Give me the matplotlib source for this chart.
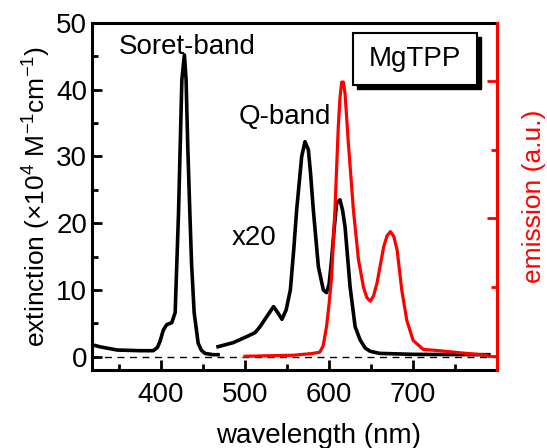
import matplotlib
matplotlib.use('Agg')
import matplotlib.pyplot as plt
import matplotlib.patches as mpatches
from matplotlib.ticker import MultipleLocator, FixedLocator

plt.rcParams['font.family'] = ['Liberation Sans', 'DejaVu Sans']
plt.rcParams['mathtext.fontset'] = 'custom'
plt.rcParams['mathtext.rm'] = 'Liberation Sans'
plt.rcParams['mathtext.it'] = 'Liberation Sans'

# Soret band (absorption, as measured)
soret_nm = [318, 327, 348, 375, 391, 396, 399, 403, 407, 413, 417, 419, 421,
            423, 425, 428, 430, 432, 434.5, 436.5, 439.6, 444.4, 448, 452.4,
            462, 468]
soret_ext = [1.8, 1.5, 1.0, 0.9, 0.9, 1.4, 2.3, 4.0, 4.8, 5.1, 6.6, 14, 21.5,
             31.5, 41.5, 45.2, 41.5, 31.5, 21.5, 14, 6.6, 2.0, 1.0, 0.5,
             0.3, 0.3]

# Q band (absorption, x20)
q_nm = [468, 486, 502, 512, 518, 527, 534, 539, 544, 549, 554, 558, 561.5,
        567.5, 571.4, 575.4, 578, 581.3, 587.3, 593.2, 597, 600, 603, 606,
        609, 613, 616, 619, 625, 631, 637, 643, 649, 660, 700, 790]
q_ext = [1.5, 2.1, 3.0, 3.6, 4.5, 6.2, 7.5, 6.6, 5.6, 7.0, 10.0, 16.0, 22.0,
         30.0, 32.2, 31.0, 27.5, 22.0, 13.5, 10.0, 9.6, 10.8, 14.5, 19.0,
         23.0, 23.5, 22.0, 19.5, 10.5, 4.5, 2.5, 1.3, 0.8, 0.5, 0.35, 0.3]

# emission (a.u.)
em_nm = [500, 557.5, 580, 589, 593, 597, 600, 603, 607, 611, 613, 615, 617,
         619, 623, 629, 635, 641, 645, 649, 653, 657, 665, 669, 673, 677,
         681, 686.5, 692.5, 700, 712, 732, 756, 788]
em_int = [0, 0.015, 0.04, 0.06, 0.15, 0.43, 0.75, 1.15, 2.12, 3.33, 3.75,
          3.98, 3.98, 3.82, 3.09, 2.12, 1.40, 1.0, 0.85, 0.80, 0.88, 1.06,
          1.59, 1.75, 1.81, 1.74, 1.54, 0.96, 0.52, 0.23, 0.10, 0.08, 0.05,
          0.015]

fig = plt.figure(figsize=(5.47, 4.48), dpi=100, facecolor='w')
ax = fig.add_axes([0.168, 0.174, 0.741, 0.775])

ax.axhline(0, color='k', lw=1.0, ls=(0, (5, 4)), zorder=1)
ax.plot(soret_nm, soret_ext, color='k', lw=2.6, zorder=3, solid_joinstyle='round')
ax.plot(q_nm, q_ext, color='k', lw=2.6, zorder=3, solid_joinstyle='round')

ax.set_xlim(318, 800)
ax.set_ylim(-2, 50)
ax.xaxis.set_major_locator(FixedLocator([400, 500, 600, 700]))
ax.xaxis.set_minor_locator(FixedLocator([350, 450, 550, 650, 750]))
ax.yaxis.set_major_locator(MultipleLocator(10))
ax.yaxis.set_minor_locator(MultipleLocator(5))
ax.tick_params(which='both', direction='in', width=2, labelsize=20, top=False, right=False)
ax.tick_params(which='major', length=7)
ax.tick_params(which='minor', length=4)
ax.tick_params(axis='x', pad=8.5)
for s in ax.spines.values():
    s.set_linewidth(2.2)

ax.set_xlabel('wavelength (nm)', fontsize=20, va='baseline')
ax.xaxis.set_label_coords(0.558, -0.21)
ax.set_ylabel('extinction ($\\times$10$^4$ M$^{-1}$cm$^{-1}$)', fontsize=19, labelpad=2)

ax2 = ax.twinx()
ax2.plot(em_nm, em_int, color='red', lw=2.3, zorder=4, solid_joinstyle='round')
ax2.set_ylim(-0.2, 4.84)
ax2.yaxis.set_major_locator(MultipleLocator(2))
ax2.yaxis.set_minor_locator(MultipleLocator(1))
ax2.tick_params(which='both', direction='in', width=2, colors='red', labelright=False)
ax2.tick_params(which='major', length=7)
ax2.tick_params(which='minor', length=4)
ax2.spines['right'].set_color('red')
ax2.spines['right'].set_linewidth(2.2)
for side in ['left', 'top', 'bottom']:
    ax2.spines[side].set_visible(False)
ax2.set_ylabel('emission (a.u.)', color='red', fontsize=19, labelpad=18)

ax.text(0.235, 0.93, 'Soret-band', transform=ax.transAxes, fontsize=20, ha='center', va='center')
ax.text(0.475, 0.73, 'Q-band', transform=ax.transAxes, fontsize=20, ha='center', va='center')
ax.text(0.40, 0.38, 'x20', transform=ax.transAxes, fontsize=20, ha='center', va='center')

# MgTPP box with shadow
bx, by, bw, bh = 0.645, 0.821, 0.306, 0.15
ax2.add_patch(mpatches.Rectangle((bx + 0.01, by - 0.012), bw, bh, transform=ax.transAxes,
                                 facecolor='k', edgecolor='k', zorder=5, clip_on=False))
ax2.add_patch(mpatches.Rectangle((bx, by), bw, bh, transform=ax.transAxes,
                                 facecolor='w', edgecolor='k', lw=1.5, zorder=6, clip_on=False))
ax2.text(bx + bw / 2, by + bh / 2, 'MgTPP', transform=ax.transAxes, fontsize=20,
         ha='center', va='center', zorder=7)

fig.savefig('out.png', dpi=100)
